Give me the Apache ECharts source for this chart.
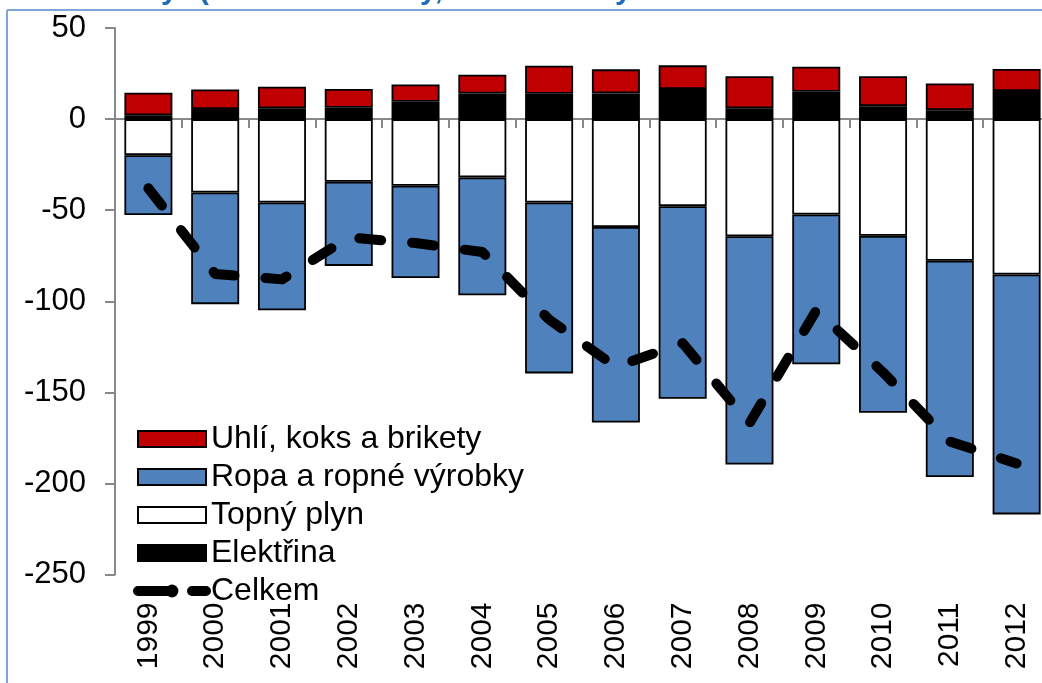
<!DOCTYPE html>
<html>
<head>
<meta charset="utf-8">
<script src="https://cdn.jsdelivr.net/npm/echarts@6/dist/echarts.min.js"></script>
<style>
    html, body { margin: 0; padding: 0; background: #fff; overflow: hidden; }
    #chart { width: 1060px; height: 683px; }
</style>
</head>
<body>
<div id="chart"></div>
<script>
    // roky
    var years = ['1999', '2000', '2001', '2002', '2003', '2004', '2005',
        '2006', '2007', '2008', '2009', '2010', '2011', '2012'];
    // hodnoty
    var uhli = [12.4, 10.8, 11.9, 10.3, 9.5, 10.4, 15.4, 13.2, 13.0, 17.6, 13.7, 16.4, 14.7, 12.1];
    var elektrina = [2.1, 5.5, 5.9, 6.2, 9.5, 14.0, 13.9, 14.1, 16.5, 5.9, 15.0, 7.1, 4.9, 15.4];
    var topnyPlyn = [-19.8, -40.3, -45.8, -34.4, -36.6, -32.0, -45.8, -59.2, -47.8, -64.3, -52.4, -64.1, -77.8, -85.3];
    var ropa = [-32.9, -61.3, -59.2, -46.2, -50.6, -64.7, -93.8, -107.4, -105.7, -125.3, -82.2, -97.1, -118.7, -131.7];
    var celkem = [-38, -85, -88, -65, -68, -73, -110, -136, -123, -167, -105, -139, -177, -189];
    var yTicks = [-250, -200, -150, -100, -50, 0, 50];

    var fnt = 'Liberation Sans, Arial, sans-serif';
    var frameColor = '#7ea6d8';
    var titleBlue = '#1f6bb8';

    function barSerie(name, data, color) {
        return {
            name: name,
            type: 'bar',
            stack: 'bilance',
            barWidth: 48,
            data: data,
            itemStyle: { color: color, borderColor: '#000', borderWidth: 1.8 },
            emphasis: { disabled: true }
        };
    }

    // kousky nadpisu, ze kterych je videt jen spodek
    function titleBit(txt, x) {
        return {
            type: 'text',
            left: x,
            top: -24,
            silent: true,
            style: { text: txt, font: 'bold 30px ' + fnt, fill: titleBlue }
        };
    }

    var chart = echarts.init(document.getElementById('chart'));
    chart.setOption({
        animation: false,
        backgroundColor: '#fff',
        grid: { left: 115, right: 10, top: 28, bottom: 108.5 },
        legend: {
            orient: 'vertical',
            left: 133,
            top: 423,
            padding: 0,
            itemWidth: 68,
            itemHeight: 16,
            itemGap: 6,
            textStyle: { fontFamily: fnt, fontSize: 32, color: '#000', lineHeight: 30 },
            lineStyle: { width: 10, type: [30, 24], cap: 'round' },
            data: [
                { name: 'Uhlí, koks a brikety', icon: 'rect' },
                { name: 'Ropa a ropné výrobky', icon: 'rect' },
                { name: 'Topný plyn', icon: 'rect' },
                { name: 'Elektřina', icon: 'rect' },
                { name: 'Celkem' }
            ]
        },
        xAxis: [{
            type: 'category',
            data: years,
            axisLine: { onZero: true, lineStyle: { color: '#888', width: 2 } },
            axisTick: { show: true, length: 9, lineStyle: { color: '#888', width: 2 } },
            axisLabel: { show: false }
        }, {
            type: 'category',
            data: years,
            position: 'bottom',
            axisLine: { show: false, onZero: false },
            axisTick: { show: false },
            axisLabel: { rotate: 90, margin: 28, fontFamily: fnt, fontSize: 30, color: '#000' }
        }],
        yAxis: {
            type: 'value',
            min: yTicks[0],
            max: yTicks[yTicks.length - 1],
            interval: 50,
            splitLine: { show: false },
            axisLine: { show: true, lineStyle: { color: '#888', width: 2 } },
            axisTick: { show: true, length: 10, lineStyle: { color: '#888', width: 2 } },
            axisLabel: { margin: 29, fontFamily: fnt, fontSize: 31, color: '#000' }
        },
        series: [
            barSerie('Elektřina', elektrina, '#000000'),
            barSerie('Topný plyn', topnyPlyn, '#ffffff'),
            barSerie('Uhlí, koks a brikety', uhli, '#c00000'),
            barSerie('Ropa a ropné výrobky', ropa, '#4f81bd'),
            {
                name: 'Celkem',
                type: 'line',
                data: celkem,
                symbol: 'none',
                z: 5,
                lineStyle: { color: '#000', width: 10, type: [22, 31], cap: 'round', join: 'round' },
                itemStyle: { color: '#000' },
                emphasis: { disabled: true }
            }
        ],
        graphic: [
            titleBit('y', 161),
            titleBit('(', 199),
            titleBit('y,', 420),
            titleBit('y', 615),
            {
                type: 'line',
                silent: true,
                shape: { x1: 7, y1: 10, x2: 1060, y2: 10 },
                style: { stroke: frameColor, lineWidth: 2 }
            },
            {
                type: 'line',
                silent: true,
                shape: { x1: 7, y1: 10, x2: 7, y2: 683 },
                style: { stroke: frameColor, lineWidth: 2 }
            }
        ]
    });
</script>
</body>
</html>
